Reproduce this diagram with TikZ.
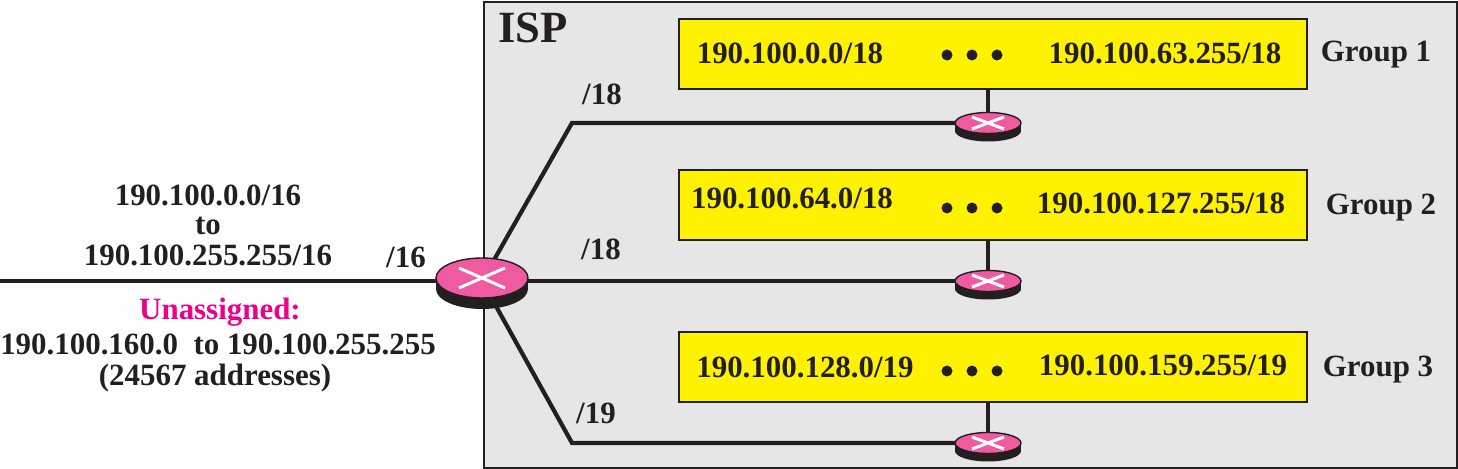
\documentclass[tikz,border=0pt]{standalone}
\usepackage{fontspec}
\setmainfont{Liberation Serif}
\definecolor{ispgray}{RGB}{230,230,231}
\definecolor{boxyellow}{RGB}{255,242,0}
\definecolor{routerpink}{RGB}{240,90,160}
\definecolor{magentatext}{RGB}{236,0,140}
\definecolor{ink}{RGB}{35,31,32}
\tikzset{x=0.02cm,y=-0.02cm,
 lbl/.style={font=\bfseries\fontsize{17.6}{18}\selectfont,text=ink,inner sep=0pt,anchor=base,yshift=-0.02cm},
 wire/.style={draw=ink,line width=2.4pt,line join=miter},
 stub/.style={draw=ink,line width=2.2pt},
 net/.style={fill=boxyellow,draw=ink,line width=1.2pt,anchor=north west,inner sep=0pt,minimum width=12.56cm,minimum height=1.4cm},
}
% x, y, rx, ry, depth, cross half-width, cross half-height
\newcommand{\routerdraw}[7]{%
 \begin{scope}[shift={(#1,#2)}]
  \fill[ink] (-#3,0) rectangle (#3,#5);
  \fill[ink] (0,#5) ellipse[x radius=#3,y radius=#4];
  \draw[fill=routerpink,draw=ink,line width=.8pt] (0,0) ellipse[x radius=#3,y radius=#4];
  \draw[white,line width=1.7pt] (-#6,-#7) -- (#6,#7) (-#6,#7) -- (#6,-#7);
 \end{scope}}
\begin{document}
\begin{tikzpicture}
\useasboundingbox (0,0) rectangle (1458,469);
\node[fill=ispgray,draw=ink,line width=1.1pt,anchor=north west,inner sep=0pt,minimum width=19.46cm,minimum height=9.32cm] (isp) at (483,1) {};
\coordinate (w) at (0,281);
\coordinate (hub) at (482,281);
\coordinate (r1) at (988,123);
\coordinate (r2) at (988,281);
\coordinate (r3) at (988,443);
\coordinate (k1) at (572,123);
\coordinate (k3) at (572,443);
\node[net] (g1) at (678,18) {};
\node[net] (g2) at (678,169) {};
\node[net] (g3) at (678,331) {};
\draw[stub] (g1.south -| r1) -- (r1);
\draw[stub] (g2.south -| r2) -- (r2);
\draw[stub] (g3.south -| r3) -- (r3);
\draw[wire] (w) -- (hub);
\draw[wire] (hub) -- (k1) -- (r1);
\draw[wire] (hub) -- (r2);
\draw[wire] (hub) -- (k3) -- (r3);
\routerdraw{482}{278}{46}{20}{11}{23}{10}
\routerdraw{988}{123}{33}{10.5}{8}{16}{6}
\routerdraw{988}{281}{33}{10.5}{8}{16}{6}
\routerdraw{988}{443}{33}{10.5}{8}{16}{6}
\node[lbl,font=\bfseries\fontsize{25.4}{26}\selectfont] (t0) at (533,42) {ISP};
\node[lbl] (a1) at (790,63) {190.100.0.0/18};
\node[lbl] (a2) at (1165,63) {190.100.63.255/18};
\node[lbl] (a3) at (1376,61) {Group 1};
\node[lbl] (b1) at (792,208) {190.100.64.0/18};
\node[lbl] (b2) at (1161,213) {190.100.127.255/18};
\node[lbl] (b3) at (1381,214) {Group 2};
\node[lbl] (c1) at (805,377) {190.100.128.0/19};
\node[lbl] (c2) at (1163,375) {190.100.159.255/19};
\node[lbl] (c3) at (1378,376) {Group 3};
\foreach \yy in {55,208,371}{
 \foreach \xx in {947,972,997}{\fill[ink] (\xx,\yy) circle[radius=5.5];}
}
\node[lbl] (e1) at (602,104) {/18};
\node[lbl] (e2) at (601,259) {/18};
\node[lbl] (e3) at (596,423) {/19};
\node[lbl] (e0) at (406,267) {/16};
\node[lbl] (l1) at (208,205) {190.100.0.0/16};
\node[lbl] (l2) at (208,234) {to};
\node[lbl] (l3) at (208,265) {190.100.255.255/16};
\node[lbl,text=magentatext] (u) at (220,319) {Unassigned:};
\node[lbl] (u2) at (218,354) {190.100.160.0\ \ to 190.100.255.255};
\node[lbl] (u3) at (215,385) {(24567 addresses)};
\end{tikzpicture}
\end{document}
